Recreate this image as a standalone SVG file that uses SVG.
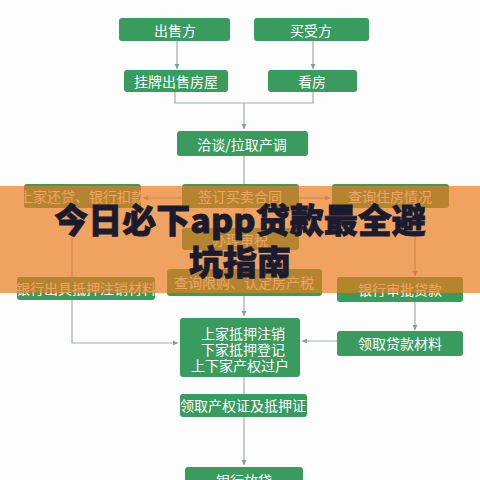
<svg xmlns="http://www.w3.org/2000/svg" width="480" height="480" viewBox="0 0 480 480">
<defs>
<marker id="ah" markerWidth="6" markerHeight="6" refX="5" refY="3" orient="auto" markerUnits="userSpaceOnUse">
<path d="M0,0.5 L5,3 L0,5.5 Z" fill="#8f9a9a"/>
</marker>
<style>
.box{fill:#3a9b5f;}
.t{fill:#ffffff;font-family:"Noto Sans CJK SC","Noto Sans",sans-serif;font-size:14px;text-anchor:middle;dominant-baseline:central;}
.c{fill:none;stroke:#a3abab;stroke-width:1.2;}
.title{fill:#1b1b2f;font-family:"Noto Sans CJK SC","Noto Sans",sans-serif;font-size:34px;font-weight:900;text-anchor:middle;stroke:#1b1b2f;stroke-width:0.8;}
</style>
</defs>
<rect x="0" y="0" width="480" height="480" fill="#fdfdfd"/>
<g id="connectors">
<path class="c" d="M177,41 V69" marker-end="url(#ah)"/>
<path class="c" d="M313,41 V69" marker-end="url(#ah)"/>
<path class="c" d="M175,92 V103 H313 V92"/>
<path class="c" d="M244,103 V129" marker-end="url(#ah)"/>
<path class="c" d="M244,156 V184"/>
<path class="c" d="M182,198 H143" marker-end="url(#ah)"/>
<path class="c" d="M299,198 H330" marker-end="url(#ah)"/>
<path class="c" d="M244,208 V228"/>
<path class="c" d="M244,250 V269"/>
<path class="c" d="M72,208 V277"/>
<path class="c" d="M415,208 V276" marker-end="url(#ah)"/>
<path class="c" d="M244,296 V316" marker-end="url(#ah)"/>
<path class="c" d="M72,300 V343 H178" marker-end="url(#ah)"/>
<path class="c" d="M415,302 V330" marker-end="url(#ah)"/>
<path class="c" d="M337,341 H302" marker-end="url(#ah)"/>
<path class="c" d="M244,377 V394"/>
<path class="c" d="M244,417 V465" marker-end="url(#ah)"/>
</g>
<g id="n1"><rect class="box" x="119" y="18" width="111" height="23" rx="3"/><text class="t" x="175" y="29.5">出售方</text></g>
<g id="n2"><rect class="box" x="254" y="18" width="115" height="23" rx="3"/><text class="t" x="311" y="29.5">买受方</text></g>
<g id="n3"><rect class="box" x="124" y="70" width="104" height="22" rx="3"/><text class="t" x="176" y="81">挂牌出售房屋</text></g>
<g id="n4"><rect class="box" x="268" y="70" width="89" height="22" rx="3"/><text class="t" x="312" y="81">看房</text></g>
<g id="n5"><rect class="box" x="177" y="131" width="131" height="25" rx="3"/><text class="t" x="242" y="143.5">洽谈/拉取产调</text></g>
<g id="n6"><rect class="box" x="24" y="184" width="117" height="24" rx="3"/><text class="t" x="82" y="196">上家还贷、银行扣款</text></g>
<g id="n7"><rect class="box" x="182" y="184" width="117" height="24" rx="3"/><text class="t" x="240" y="196">签订买卖合同</text></g>
<g id="n8"><rect class="box" x="332" y="184" width="117" height="24" rx="3"/><text class="t" x="390" y="196">查询住房情况</text></g>
<g id="n9"><rect class="box" x="182" y="228" width="117" height="22" rx="3"/><text class="t" x="240" y="239">办理审税</text></g>
<g id="n10"><rect class="box" x="167" y="269" width="155" height="27" rx="3"/><text class="t" x="244" y="282">查询限购、认定房产税</text></g>
<g id="n11"><rect class="box" x="17" y="277" width="138" height="23" rx="3"/><text class="t" x="86" y="288">银行出具抵押注销材料</text></g>
<g id="n12"><rect class="box" x="337" y="277" width="126" height="25" rx="3"/><text class="t" x="400" y="289">银行审批贷款</text></g>
<g id="n13"><rect class="box" x="180" y="318" width="120" height="59" rx="3"/><text class="t" x="243" y="333">上家抵押注销</text><text class="t" x="243" y="349">下家抵押登记</text><text class="t" x="240" y="365">上下家产权过户</text></g>
<g id="n14"><rect class="box" x="337" y="331" width="126" height="25" rx="3"/><text class="t" x="400" y="343">领取贷款材料</text></g>
<g id="n15"><rect class="box" x="180" y="394" width="127" height="23" rx="3"/><text class="t" x="243" y="405">领取产权证及抵押证</text></g>
<g id="n16"><rect class="box" x="185" y="467" width="118" height="25" rx="3"/><text class="t" x="244" y="480">银行放贷</text></g>
<rect x="0" y="186" width="480" height="107" fill="rgb(234,122,30)" fill-opacity="0.7"/>
<text class="title" x="240" y="233">今日必下app贷款最全避</text>
<text class="title" x="240" y="275">坑指南</text>
</svg>
